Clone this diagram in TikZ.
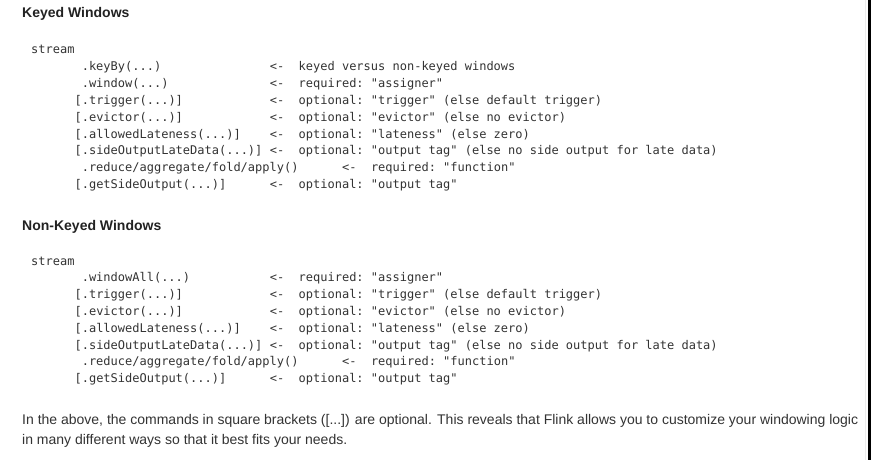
\documentclass[tikz,border=0pt]{standalone}
\usepackage{fontspec}
\setmainfont{Liberation Sans}
\setmonofont{DejaVu Sans Mono}
\definecolor{headcol}{HTML}{222222}
\definecolor{codecol}{HTML}{333333}
\definecolor{textcol}{HTML}{333333}
\tikzset{
  head/.style={anchor=base west, inner sep=0pt, text=headcol,
    font=\fontsize{14}{16}\selectfont\bfseries},
  code/.style={anchor=base west, inner sep=0pt, text=codecol,
    font=\fontsize{12}{14}\selectfont\ttfamily},
  para/.style={anchor=base west, inner sep=0pt, text=textcol,
    font=\fontsize{14}{16}\selectfont},
}
\begin{document}
\begin{tikzpicture}[x=1pt, y=-1pt]
\useasboundingbox (0,0) rectangle (872,460);
\fill[white] (0,0) rectangle (872,460);
% keyed windows
\node[head] (khead) at (22,17.3) {Keyed Windows};
\node[code] (kstream) at (31,54) {stream};
\node[code] (kkeyby) at (81.6,70.8) {.keyBy(...)};
\node[code] (kkeybyc) at (269.6,70.8) {<-~~keyed versus non-keyed windows};
\node[code] (kwindow) at (81.6,87.6) {.window(...)};
\node[code] (kwindowc) at (269.6,87.6) {<-~~required: "assigner"};
\node[code] (ktrigger) at (74.4,104.4) {[.trigger(...)]};
\node[code] (ktriggerc) at (269.6,104.4) {<-~~optional: "trigger" (else default trigger)};
\node[code] (kevictor) at (74.4,121.2) {[.evictor(...)]};
\node[code] (kevictorc) at (269.6,121.2) {<-~~optional: "evictor" (else no evictor)};
\node[code] (klate) at (74.4,138) {[.allowedLateness(...)]};
\node[code] (klatec) at (269.6,138) {<-~~optional: "lateness" (else zero)};
\node[code] (kside) at (74.4,154.8) {[.sideOutputLateData(...)]};
\node[code] (ksidec) at (269.6,154.8) {<-~~optional: "output tag" (else no side output for late data)};
\node[code] (kreduce) at (81.6,171.6) {.reduce/aggregate/fold/apply()};
\node[code] (kreducec) at (341.9,171.6) {<-~~required: "function"};
\node[code] (kget) at (74.4,188.4) {[.getSideOutput(...)]};
\node[code] (kgetc) at (269.6,188.4) {<-~~optional: "output tag"};
% non-keyed windows
\node[head] (nhead) at (22,230) {Non-Keyed Windows};
\node[code] (nstream) at (31,265) {stream};
\node[code] (nwindow) at (81.6,281.8) {.windowAll(...)};
\node[code] (nwindowc) at (269.6,281.8) {<-~~required: "assigner"};
\node[code] (ntrigger) at (74.4,298.6) {[.trigger(...)]};
\node[code] (ntriggerc) at (269.6,298.6) {<-~~optional: "trigger" (else default trigger)};
\node[code] (nevictor) at (74.4,315.4) {[.evictor(...)]};
\node[code] (nevictorc) at (269.6,315.4) {<-~~optional: "evictor" (else no evictor)};
\node[code] (nlate) at (74.4,332.2) {[.allowedLateness(...)]};
\node[code] (nlatec) at (269.6,332.2) {<-~~optional: "lateness" (else zero)};
\node[code] (nside) at (74.4,349) {[.sideOutputLateData(...)]};
\node[code] (nsidec) at (269.6,349) {<-~~optional: "output tag" (else no side output for late data)};
\node[code] (nreduce) at (81.6,365.8) {.reduce/aggregate/fold/apply()};
\node[code] (nreducec) at (341.9,365.8) {<-~~required: "function"};
\node[code] (nget) at (74.4,382.6) {[.getSideOutput(...)]};
\node[code] (ngetc) at (269.6,382.6) {<-~~optional: "output tag"};
% closing text
\node[para] (pone) at (22,424) {In the above, the commands in square brackets ([...]) are optional. This reveals that Flink allows you to customize your windowing logic};
\node[para] (ptwo) at (22,444) {in many different ways so that it best fits your needs.};
% page edge
\draw[black!7, line width=1pt] (865,0) -- (865,460);
\draw[black, line width=2.5pt] (869.3,0) -- (869.3,460);
\end{tikzpicture}
\end{document}
